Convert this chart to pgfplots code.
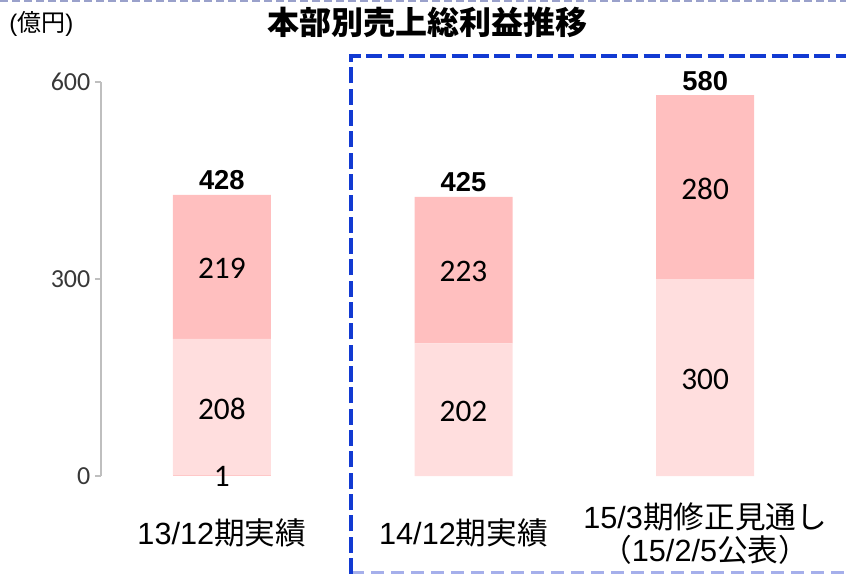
\documentclass[border=0pt]{standalone}
\usepackage{fontspec}
\usepackage{pgfplots}
\pgfplotsset{compat=1.18}
\setmainfont{Carlito}
\newfontfamily\ari{Liberation Sans}
\newfontfamily\cjk{Noto Sans CJK JP}
\definecolor{pinkA}{RGB}{255,200,200}
\definecolor{pinkB}{RGB}{255,222,222}
\definecolor{pinkC}{RGB}{255,191,191}
\definecolor{frameblue}{RGB}{18,58,210}
\definecolor{framelight}{RGB}{165,175,235}
\definecolor{axgray}{RGB}{191,191,191}

% common geometry, 1px of the reference = 0.75pt
\pgfplotsset{base/.style={
  at={(75.75pt,-357pt)}, anchor=south west,
  scale only axis, width=543.75pt, height=295.5pt,
  xmin=-0.5, xmax=2.5, ymin=0, ymax=600,
  clip=false,
}}

\begin{document}
\begin{tikzpicture}
\useasboundingbox (0,0) rectangle (634.5pt,-430.5pt);

\begin{axis}[base,
  ybar stacked, bar width=73.5pt,
  axis lines=left,
  axis line style={-, draw=axgray, line width=0.8pt},
  x axis line style={draw=none},
  xtick={0,1,2},
  xticklabels={
    {\ari 13/12}{\cjk 期実績},
    {\ari 14/12}{\cjk 期実績},
    {\ari 15/3}{\cjk 期修正見通し}\\{\cjk （}{\ari 15/2/5}{\cjk 公表）}},
  x tick style={draw=none},
  xticklabel style={align=center, anchor=center, yshift=-38.5pt,
    font=\fontsize{23}{24.5}\selectfont},
  ytick={0,300,600},
  y tick style={draw=axgray, line width=0.8pt},
  tick align=outside, major tick length=4.5pt,
  yticklabel style={font=\fontsize{19.5}{20}\selectfont, text=black!78},
  /pgf/number format/assume math mode=true,
]
\addplot[fill=pinkA, draw=none] coordinates {(0,1) (1,0) (2,0)};
\addplot[fill=pinkB, draw=none] coordinates {(0,208) (1,202) (2,300)};
\addplot[fill=pinkC, draw=none] coordinates {(0,219) (1,223) (2,280)};
\end{axis}

\begin{axis}[base, hide axis]
% segment values, at the middle of each segment
\addplot[draw=none, mark=none, nodes near coords, point meta=explicit symbolic,
  nodes near coords align={center},
  every node near coord/.append style={font=\fontsize{23.5}{24}\selectfont, text=black}]
  coordinates {(0,-1)[1] (0,102)[208] (0,316)[219]
               (1,98)[202] (1,311)[223]
               (2,147)[300] (2,437)[280]};
% totals
\addplot[draw=none, mark=none, nodes near coords, point meta=explicit symbolic,
  every node near coord/.append style={anchor=south, yshift=0pt,
    font=\ari\bfseries\fontsize{20.5}{21}\selectfont}]
  coordinates {(0,428)[428] (1,425)[425] (2,580)[580]};
\end{axis}

\begin{scope}[x=0.75pt, y=-0.75pt]
  % slide border at the very top
  \draw[color=framelight!70!gray, line width=2pt, dash pattern=on 6 off 3] (0,1) -- (846,1);
  % dashed box round the last two periods
  \draw[color=framelight, line width=2pt, dash pattern=on 10 off 5] (351,572.5) -- (846,572.5);
  \draw[color=frameblue, line width=2.6pt, dash pattern=on 12 off 4] (351,574) -- (351,56) -- (850,56);
  % title and unit
  \node[font=\cjk\bfseries\fontsize{24}{24}\selectfont] at (427,22) {本部別売上総利益推移};
  \node[anchor=west, font=\fontsize{18}{18}\selectfont, inner sep=0pt] at (9,24)
    {{\ari(}{\cjk 億円}{\ari)}};
\end{scope}
\end{tikzpicture}
\end{document}
